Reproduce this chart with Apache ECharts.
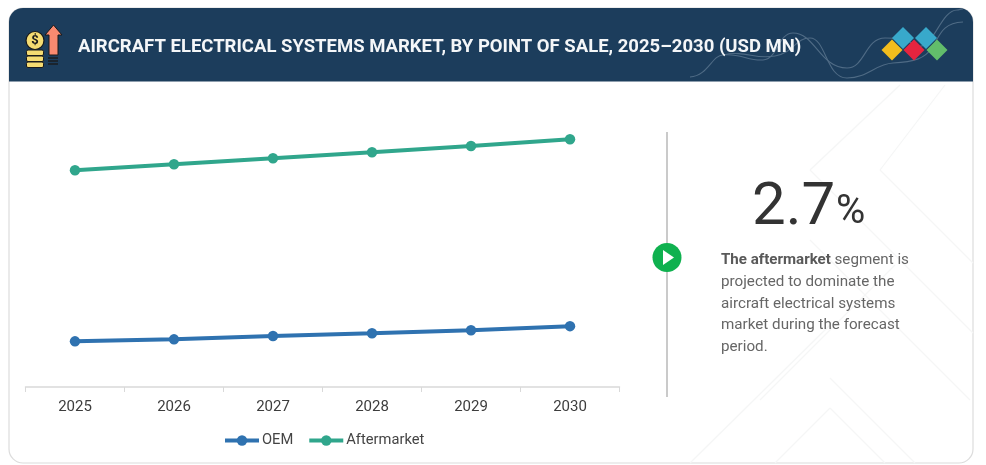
<!DOCTYPE html>
<html><head><meta charset="utf-8">
<style>html,body{margin:0;padding:0;background:#fff}#c{width:986px;height:465px}</style>
<script src="https://cdn.jsdelivr.net/npm/echarts@6/dist/echarts.min.js"></script>
</head><body><div id="c"></div>
<script>
const categories = ['2025','2026','2027','2028','2029','2030'];
const oemValues = [15.9,16.6,17.8,18.7,19.8,21.2];
const aftermarketValues = [75.5,77.6,79.7,81.8,84.0,86.3];
const titleText = 'AIRCRAFT ELECTRICAL SYSTEMS MARKET, BY POINT OF SALE, 2025–2030 (USD MN)';
const cagrText = '2.7';
const bodyLines = ['segment is','projected to dominate the','aircraft electrical systems','market during the forecast','period.'];

const F = 'Roboto';
const faint = '#f5f6f6';
function ln(x1,y1,x2,y2,color,w){return {type:'line',silent:true,shape:{x1,y1,x2,y2},style:{stroke:color,lineWidth:w}};}
function diamond(cx,cy,r,fill){return {type:'polygon',silent:true,shape:{points:[[cx,cy-r],[cx+r,cy],[cx,cy+r],[cx-r,cy]]},style:{fill}};}
function wave(start,segs){
  let [x1,y1]=start; const out=[];
  segs.forEach(s=>{
    out.push({type:'bezierCurve',silent:true,z:2,
      shape:{x1,y1,cpx1:s[0],cpy1:s[1],cpx2:s[2],cpy2:s[3],x2:s[4],y2:s[5]},
      style:{stroke:'#4f6b85',fill:null,lineWidth:1.1}});
    x1=s[4];y1=s[5];
  });
  return out;
}

const graphics = [
  {type:'rect',silent:true,z:-10,shape:{x:9,y:8,width:964,height:455,r:14},style:{fill:'#fff',stroke:'#dcdcdc',lineWidth:1.2}},
  ln(690,463,830,325,faint,1.2), ln(830,378,915,463,faint,1.2), ln(775,463,830,408,faint,1.2), ln(830,408,885,463,faint,1.2),
  ln(810,240,970,400,faint,1.2), ln(880,170,973,263,faint,1.2), ln(880,170,945,85,faint,1.2), ln(810,170,900,85,faint,1.2),
  ln(810,170,973,333,faint,1.2), ln(760,400,895,265,faint,1.2),
  {type:'rect',silent:true,z:1,shape:{x:9,y:8,width:964,height:73.5,r:[14,14,0,0]},style:{fill:'#1c3d5c'}},
  ...wave([690,77],[[708,76,712,55,723,55],[740,53,748,61,763,60],[778,59,778,33,793,33],[815,33,820,68,847,68],[865,68,865,38,885,38],[895,38,905,38,915,45],[932,55,940,10,957,10],[959,10,961,9,963,9]]),
  ...wave([723,55],[[745,50,755,60,775,56],[795,52,795,38,810,38],[826,38,826,78,847,78],[868,78,875,64,893,63],[915,62,925,58,932,48],[940,35,942,23,963,22]]),
  Object.assign(diamond(892,50,10.5,'#f2bd1d'),{z:3}),
  Object.assign(diamond(903,38,11,'#38a9cb'),{z:3}),
  Object.assign(diamond(914,50,10.5,'#e5243f'),{z:4}),
  Object.assign(diamond(926,38,11,'#38a9cb'),{z:3}),
  Object.assign(diamond(937,50,10.5,'#62bd6b'),{z:4}),
  {type:'polygon',silent:true,z:3,shape:{points:[[53.5,25],[62,35],[58,35],[58,55],[49,55],[49,35],[45,35]]},style:{fill:'#f98a70',stroke:'#1a1a1a',lineWidth:1}},
  ...[58,61,64].map(y=>Object.assign(ln(48,y,58,y,'#1a1a1a',1.4),{z:3})),
  {type:'circle',silent:true,z:3,shape:{cx:35,cy:40.5,r:9},style:{fill:'#f5dc72',stroke:'#1a1a1a',lineWidth:1.2}},
  {type:'text',silent:true,z:4,style:{x:35,y:41,text:'$',fill:'#1a1a1a',font:'700 13px '+F,align:'center',verticalAlign:'middle'}},
  ...[50,56,62].map(y=>({type:'rect',silent:true,z:3,shape:{x:26.5,y,width:17,height:5.5,r:1.5},style:{fill:'#f5dc72',stroke:'#1a1a1a',lineWidth:1}})),
  {type:'text',silent:true,z:5,style:{x:78,y:47.5,text:titleText,fill:'#f4f6f8',font:'700 18.5px '+F,verticalAlign:'middle'}},
  ln(667,132,667,397,'#bdbdbd',1.6),
  {type:'circle',silent:true,z:3,shape:{cx:667,cy:257.5,r:14.5},style:{fill:'#0fb14f'}},
  {type:'polygon',silent:true,z:4,shape:{points:[[663,250],[663,265],[674,257.5]]},style:{fill:'#fff'}},
  {type:'text',silent:true,z:5,style:{x:752,y:209,text:cagrText,fill:'#333',font:'400 60px '+F,verticalAlign:'middle'}},
  {type:'text',silent:true,z:5,style:{x:836,y:213,text:'%',fill:'#333',font:'400 40px '+F,verticalAlign:'middle'}},
  {type:'text',silent:true,z:5,style:{x:721,y:260,text:'The aftermarket',fill:'#595959',font:'700 15.1px '+F,verticalAlign:'middle'}},
  {type:'text',silent:true,z:5,style:{x:834.5,y:260,text:bodyLines[0],fill:'#666',font:'400 15.2px '+F,verticalAlign:'middle'}},
  ...bodyLines.slice(1).map((t,i)=>({type:'text',silent:true,z:5,style:{x:721,y:282+i*21.8,text:t,fill:'#666',font:'400 15.2px '+F,verticalAlign:'middle'}}))
];

const chart = echarts.init(document.getElementById('c'),null,{renderer:'canvas'});
function series(name,data,color){
  return {name,type:'line',data,symbol:'circle',symbolSize:10.5,showSymbol:true,animation:false,
    lineStyle:{color,width:4},itemStyle:{color}};
}
chart.setOption({
  animation:false,
  backgroundColor:'#fff',
  graphic:graphics,
  grid:{left:25.5,top:100,width:594,height:287,containLabel:false},
  legend:{left:218,top:428,itemWidth:34,itemHeight:13,itemGap:14,
    data:['OEM','Aftermarket'],
    lineStyle:{width:4},
    textStyle:{fontFamily:F,fontSize:14.7,color:'#444',padding:[0,0,0,-2]}},
  xAxis:{type:'category',data:categories,boundaryGap:true,
    axisLine:{lineStyle:{color:'#d9d9d9',width:1.5}},
    axisTick:{show:true,length:5,inside:false,lineStyle:{color:'#d9d9d9',width:1}},
    axisLabel:{fontFamily:F,fontSize:15,color:'#3d3d3d',margin:13}},
  yAxis:{type:'value',min:0,max:100,show:false,splitLine:{show:false}},
  series:[series('OEM',oemValues,'#2f72b0'),series('Aftermarket',aftermarketValues,'#30a68c')]
});
</script></body></html>
